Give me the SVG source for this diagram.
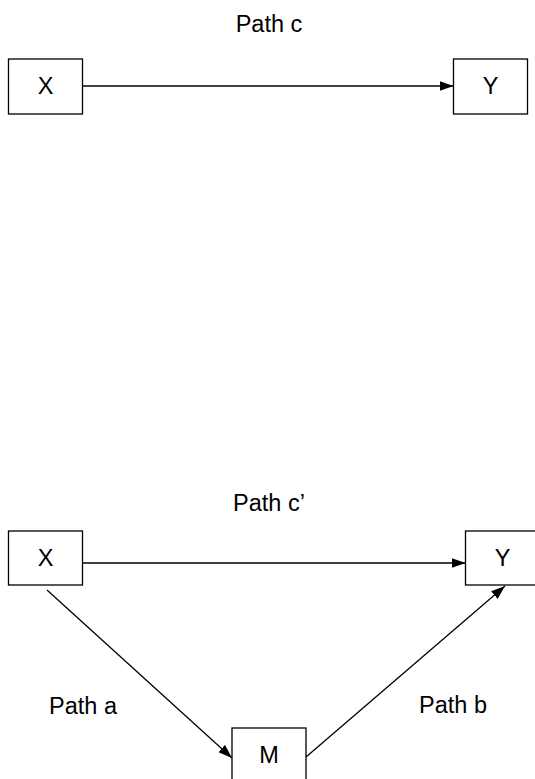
<svg xmlns="http://www.w3.org/2000/svg" width="535" height="779" viewBox="0 0 535 779">
<defs>
<style>
.box{fill:#fff;stroke:#000;stroke-width:1.3}
.t{font-family:"Liberation Sans",Arial,sans-serif;font-size:23.5px;fill:#000;text-anchor:middle}
.c{stroke:#000;stroke-width:1.3;fill:none;marker-end:url(#ah)}
</style>
<marker id="ah" viewBox="0 0 14 10" refX="14" refY="5" markerWidth="14" markerHeight="10" markerUnits="userSpaceOnUse" orient="auto">
<path d="M0,0 L14,5 L0,10 z" fill="#000"/>
</marker>
</defs>
<rect width="535" height="779" fill="#fff"/>
<g id="connectors">
<line class="c" x1="82.5" y1="86" x2="453.5" y2="86"/>
<line class="c" x1="82.5" y1="563" x2="465.5" y2="563"/>
<line class="c" x1="47" y1="590" x2="232" y2="758"/>
<line class="c" x1="306" y1="757" x2="505" y2="586"/>
</g>
<g id="labels">
<text class="t" x="269" y="32">Path c</text>
<text class="t" x="269" y="511">Path c’</text>
<text class="t" x="83" y="714">Path a</text>
<text class="t" x="453" y="713">Path b</text>
</g>
<g id="node-x1"><rect class="box" x="8.5" y="59" width="74" height="55"/><text class="t" x="45.5" y="94">X</text></g>
<g id="node-y1"><rect class="box" x="453.5" y="59" width="74" height="55"/><text class="t" x="490.5" y="94">Y</text></g>
<g id="node-x2"><rect class="box" x="8.5" y="531" width="74" height="54"/><text class="t" x="45.5" y="566">X</text></g>
<g id="node-y2"><rect class="box" x="465.5" y="531" width="74" height="54"/><text class="t" x="502.5" y="566">Y</text></g>
<g id="node-m"><rect class="box" x="232" y="728" width="74" height="60"/><text class="t" x="269" y="763">M</text></g>
</svg>
